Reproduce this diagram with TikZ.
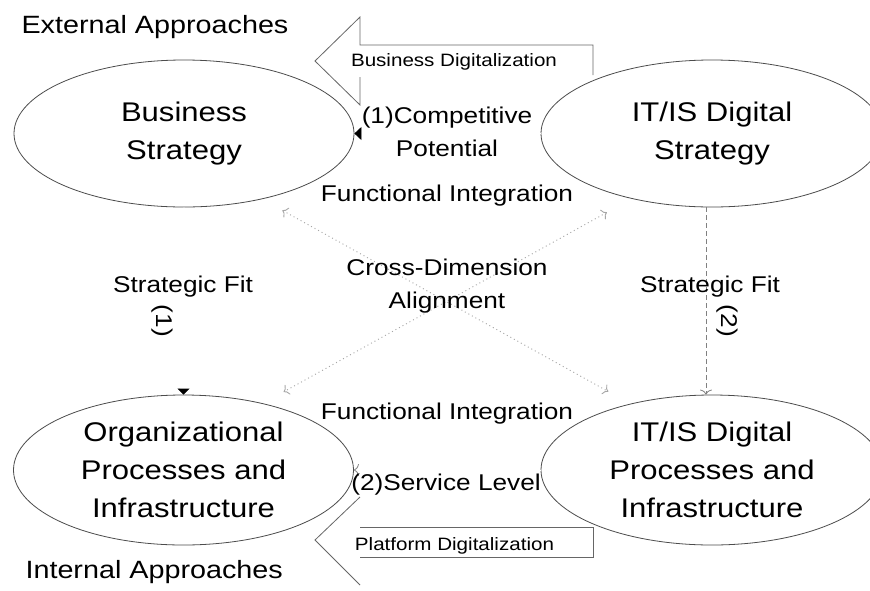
\documentclass[tikz,border=0pt]{standalone}
\usepackage{fontspec}
\setmainfont{Liberation Sans}[FakeStretch=1.15]
\usetikzlibrary{shapes.geometric,arrows.meta}

\begin{document}
\begin{tikzpicture}[x=1pt,y=-1pt,
    areanode/.style={ellipse, draw=black!70, line width=0.8pt, minimum width=340pt, minimum height=147pt, inner sep=0pt, align=center, font=\fontsize{27}{38}\selectfont},
    bigtext/.style={font=\fontsize{25}{30}\selectfont},
    midtext/.style={align=center, font=\fontsize{22.8}{33}\selectfont},
    smalltext/.style={font=\fontsize{17.9}{21}\selectfont},
    outline/.style={black!60, line width=0.8pt},
    hidden/.style={draw=white, line width=0.8pt},
    cross/.style={gray!70, dash pattern=on 1pt off 3pt, line width=0.9pt, {To[length=5pt,width=11pt]}-{To[length=5pt,width=11pt]}},
]
    \useasboundingbox (0,0) rectangle (870,590);
    \clip (0,0) rectangle (870,590);
    \fill[white] (0,0) rectangle (870,590);

    % the four domains
    \node[areanode] (bs) at (184,133.5) {Business\\Strategy};
    \node[areanode, minimum width=342pt] (itstr) at (712,133.5) {IT/IS Digital\\Strategy};
    \node[areanode, minimum height=150pt] (org) at (183.5,470) {Organizational\\Processes and\\Infrastructure};
    \node[areanode, minimum width=342pt, minimum height=150pt] (itproc) at (712,470) {IT/IS Digital\\Processes and\\Infrastructure};

    % connectors
    \draw[hidden, -{Triangle[color=black,length=7pt,width=13pt]}] (itstr.west) -- (bs.east);
    \draw[hidden, -{Triangle[color=black,length=6pt,width=12pt]}] (bs.south) -- (org.north);
    \draw[hidden, -{To[color=gray,length=5pt,width=12pt]}] (itproc.west) -- (org.east);
    \draw[gray, dash pattern=on 5pt off 3pt, line width=0.8pt, -{To[length=5pt,width=12pt]}] ([xshift=-6pt]itstr.south) -- ([xshift=-6pt]itproc.north);
    \draw[cross, shorten <=23pt, shorten >=25pt] (bs.-40) -- (itproc.141);
    \draw[cross, shorten <=28pt, shorten >=23.5pt] (itstr.-141) -- (org.40.5);

    % block arrows
    \draw[outline] (360,77) -- (360,105) -- (315,61) -- (360,17) -- (360,45) -- (593,45) -- (593,75);
    \draw[outline] (360,497) -- (315,540) -- (360,585);
    \draw[outline] (360,527) -- (593,527) -- (593,557) -- (360,557);

    % labels
    \node[bigtext, anchor=base west] (ext) at (18,33) {External Approaches};
    \node[bigtext, anchor=base west] (int) at (22,578) {Internal Approaches};
    \node[smalltext, anchor=base] (bdig) at (454,66) {Business Digitalization};
    \node[smalltext, anchor=base] (pdig) at (454.5,550) {Platform Digitalization};
    \node[midtext] (comp) at (447,132) {(1)Competitive\\Potential};
    \node[midtext, anchor=base] (funtop) at (447,201) {Functional Integration};
    \node[midtext] (cda) at (447,285.6) {Cross-Dimension\\Alignment};
    \node[midtext, anchor=base] (funbot) at (447,419) {Functional Integration};
    \node[midtext, anchor=base] (serv) at (446,490) {(2)Service Level};
    \node[midtext, anchor=base] (fitl) at (183,292) {Strategic Fit};
    \node[midtext, anchor=base] (fitr) at (710,292) {Strategic Fit};
    \node[midtext, rotate=-90] (onel) at (162.5,321) {(1)};
    \node[midtext, rotate=-90] (twor) at (727,321) {(2)};
\end{tikzpicture}
\end{document}
